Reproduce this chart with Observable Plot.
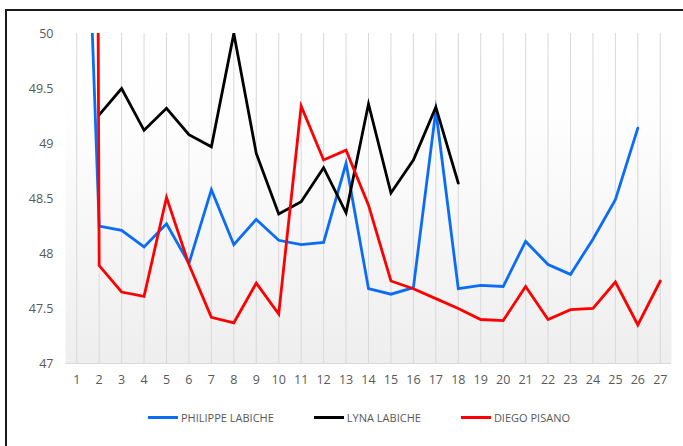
<!DOCTYPE html>
<html>
<head>
<meta charset="utf-8">
<script src="https://cdn.jsdelivr.net/npm/d3@7"></script>
<script src="https://cdn.jsdelivr.net/npm/@observablehq/plot@0.6"></script>
<style>
  html, body { margin: 0; padding: 0; background: #fff; width: 683px; height: 446px; overflow: hidden; }
  #frame { position: absolute; left: 5px; top: 9px; width: 700px; height: 460px; border-left: 2px solid #1a1a1a; border-top: 2px solid #1a1a1a; box-sizing: border-box; pointer-events: none; }
  #chart { position: absolute; left: 0; top: 0; }
  #legend { position: absolute; left: 148px; top: 410px; display: flex; gap: 40px; font-family: "Open Sans", sans-serif; font-size: 11px; color: #595959; align-items: center; }
  .item { display: flex; align-items: center; gap: 3px; }
  .sw { width: 30px; height: 3px; }
</style>
</head>
<body>
<div id="chart"></div>
<div id="legend"></div>
<div id="frame"></div>
<script>
const categories = d3.range(1, 28);
const seriesNames = ["PHILIPPE LABICHE", "LYNA LABICHE", "DIEGO PISANO"];
const seriesColors = ["#0a6cf7", "#000000", "#ff0000"];
const philippe = [54, 48.25, 48.21, 48.06, 48.27, 47.91, 48.58, 48.08, 48.31, 48.12, 48.08, 48.10, 48.82, 47.68, 47.63, 47.69, 49.30, 47.68, 47.71, 47.70, 48.11, 47.90, 47.81, 48.13, 48.49, 49.14, null];
const lyna = [null, 49.26, 49.50, 49.12, 49.32, 49.08, 48.97, 50.0, 48.91, 48.36, 48.47, 48.78, 48.37, 49.36, 48.55, 48.85, 49.33, 48.64, null, null, null, null, null, null, null, null, null];
const diego = [95, 47.89, 47.65, 47.61, 48.51, 47.90, 47.42, 47.37, 47.73, 47.45, 49.34, 48.85, 48.94, 48.44, 47.75, 47.68, 47.59, 47.50, 47.40, 47.39, 47.70, 47.40, 47.49, 47.50, 47.74, 47.35, 47.75];
const yTicks = [47, 47.5, 48, 48.5, 49, 49.5, 50];

const allSeries = [philippe, lyna, diego];
const rows = [];
allSeries.forEach((vals, s) => {
  vals.forEach((v, i) => {
    if (v !== null) rows.push({series: seriesNames[s], x: categories[i], y: v});
  });
});

const lineMarks = seriesNames.map((name, s) =>
  Plot.line(rows.filter(d => d.series === name), {x: "x", y: "y", stroke: seriesColors[s], strokeWidth: 2.8, clip: true, strokeLinejoin: "miter", strokeMiterlimit: 10})
);

const plot = Plot.plot({
  width: 683,
  height: 395,
  marginTop: 33,
  marginBottom: 32,
  marginLeft: 65,
  marginRight: 12,
  style: {fontFamily: "'Open Sans', sans-serif", fontSize: "12.5px", color: "#595959", background: "transparent"},
  x: {domain: [0.5, 27.5], ticks: categories, tickFormat: d => String(d), tickSize: 0, tickPadding: 12, label: null},
  y: {domain: [47, 50], ticks: yTicks, tickFormat: d => String(d), tickSize: 0, tickPadding: 12, label: null},
  marks: [
    Plot.frame({fill: "url(#bggrad)", stroke: null}),
    Plot.ruleX(categories, {y1: 47, y2: 50, stroke: "#d9d9d9", strokeWidth: 1}),
    Plot.ruleY([47], {stroke: "#d9d9d9", strokeWidth: 1}),
    ...lineMarks
  ]
});

const ns = "http://www.w3.org/2000/svg";
const defs = document.createElementNS(ns, "defs");
defs.innerHTML = '<linearGradient id="bggrad" x1="0" y1="0" x2="0" y2="1"><stop offset="0" stop-color="#ffffff"/><stop offset="0.25" stop-color="#fefefe"/><stop offset="1" stop-color="#eeeeee"/></linearGradient>';
plot.insertBefore(defs, plot.firstChild);
document.getElementById("chart").appendChild(plot);

const legend = document.getElementById("legend");
seriesNames.forEach((name, s) => {
  const item = document.createElement("div");
  item.className = "item";
  const sw = document.createElement("div");
  sw.className = "sw";
  sw.style.background = seriesColors[s];
  const t = document.createElement("span");
  t.textContent = name;
  item.appendChild(sw);
  item.appendChild(t);
  legend.appendChild(item);
});
</script>
</body>
</html>
